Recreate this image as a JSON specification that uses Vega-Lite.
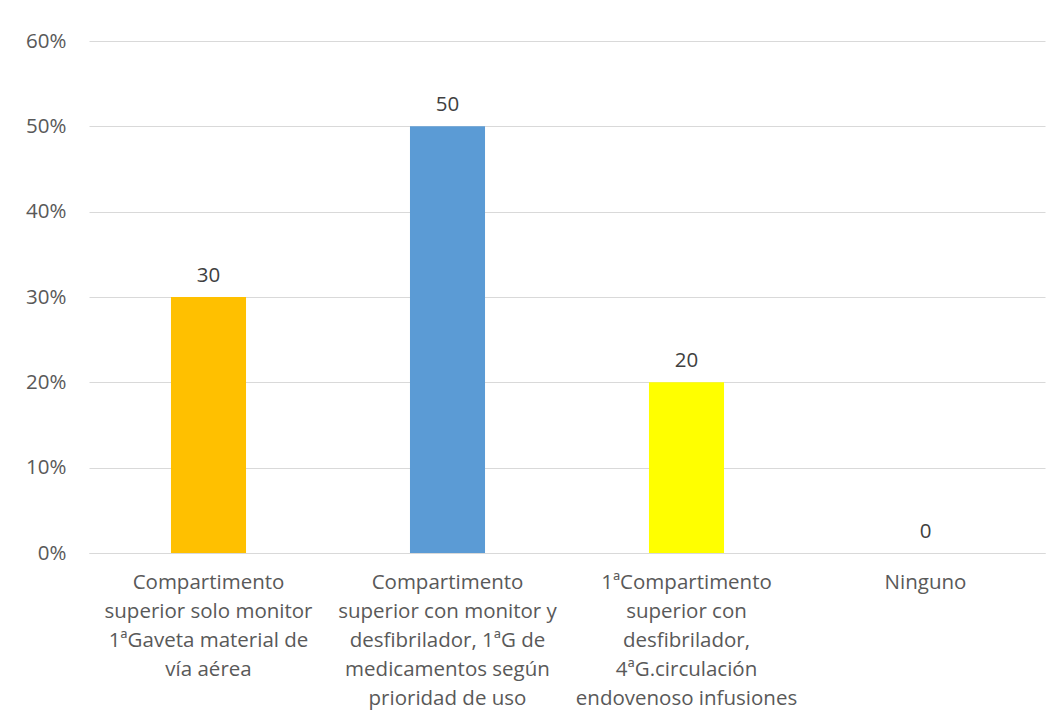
{
  "$schema": "https://vega.github.io/schema/vega-lite/v6.json",
  "autosize": {"type": "none"},
  "width": 956,
  "height": 512,
  "padding": {"left": 89, "top": 41, "right": 15, "bottom": 172},
  "background": "white",
  "config": {"view": {"stroke": null}, "font": "Open Sans"},
  "data": {
    "values": [
      {"categoria": "Compartimento\nsuperior solo monitor\n1ªGaveta material de\nvía aérea", "valor": 30},
      {"categoria": "Compartimento\nsuperior con monitor y\ndesfibrilador, 1ªG de\nmedicamentos según\nprioridad de uso", "valor": 50},
      {"categoria": "1ªCompartimento\nsuperior con\ndesfibrilador,\n4ªG.circulación\nendovenoso infusiones", "valor": 20},
      {"categoria": "Ninguno", "valor": 0}
    ]
  },
  "encoding": {
    "x": {
      "field": "categoria",
      "type": "nominal",
      "sort": null,
      "title": null,
      "scale": {"paddingInner": 0.686, "paddingOuter": 0.343},
      "axis": {
        "labelAngle": 0,
        "labelExpr": "split(datum.label, '\\n')",
        "labelFont": "Open Sans",
        "labelFontSize": 20.5,
        "labelLineHeight": 29,
        "labelColor": "#595959",
        "labelPadding": 19,
        "labelLimit": 0,
        "ticks": false,
        "domainColor": "#D9D9D9",
        "domainWidth": 1,
        "grid": false
      }
    },
    "y": {
      "field": "valor",
      "type": "quantitative",
      "title": null,
      "scale": {"domain": [0, 60]},
      "axis": {
        "values": [0, 10, 20, 30, 40, 50, 60],
        "labelExpr": "datum.value + '%'",
        "labelFont": "Open Sans",
        "labelFontSize": 20.5,
        "labelColor": "#595959",
        "labelPadding": 23,
        "ticks": false,
        "domain": false,
        "gridColor": "#D9D9D9",
        "gridWidth": 1
      }
    }
  },
  "layer": [
    {
      "mark": {"type": "bar"},
      "encoding": {
        "color": {
          "field": "categoria",
          "type": "nominal",
          "sort": null,
          "legend": null,
          "scale": {"range": ["#FFC000", "#5B9BD5", "#FFFF00", "#A5A5A5"]}
        }
      }
    },
    {
      "mark": {"type": "text", "baseline": "bottom", "dy": -11, "fontSize": 20.5, "font": "Open Sans", "color": "#404040"},
      "encoding": {"text": {"field": "valor", "type": "quantitative"}}
    }
  ]
}
